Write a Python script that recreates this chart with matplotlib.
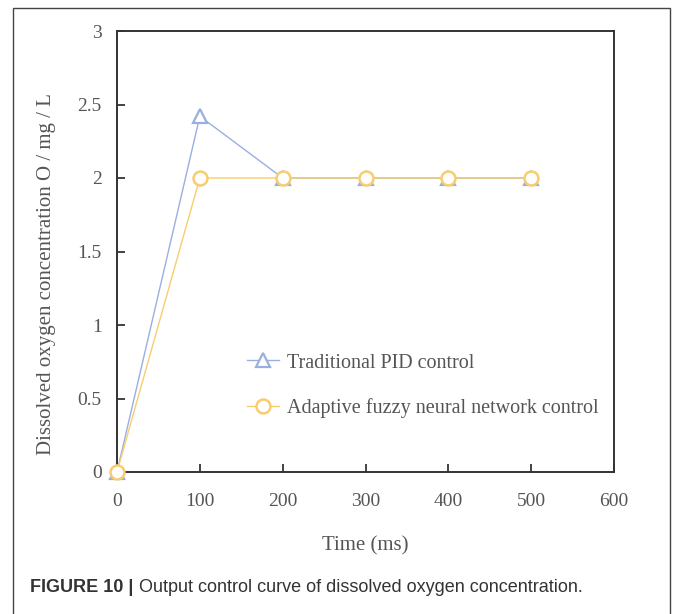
import matplotlib
matplotlib.use("Agg")
import matplotlib.pyplot as plt
from matplotlib.patches import Rectangle

time_ms = [0, 100, 200, 300, 400, 500]
pid_values = [0, 2.42, 2.0, 2.0, 2.0, 2.0]
fuzzy_values = [0, 2.0, 2.0, 2.0, 2.0, 2.0]
x_ticks = [0, 100, 200, 300, 400, 500, 600]
y_ticks = [0, 0.5, 1, 1.5, 2, 2.5, 3]
y_tick_labels = ["0", "0.5", "1", "1.5", "2", "2.5", "3"]

W, H = 673, 614
fig = plt.figure(figsize=(W / 100, H / 100), dpi=100)
serif = ["Liberation Serif", "DejaVu Serif"]
sans = ["Liberation Sans", "DejaVu Sans"]
text_col = "#555555"

ax = fig.add_axes([117 / W, 1 - 472 / H, (614 - 117) / W, (472 - 31) / H])

pid_col = "#9aafe0"
fz_col = "#f7cd6e"
l1, = ax.plot(time_ms, pid_values, color=pid_col, lw=1.0, marker="^", ms=10,
              mfc="white", mec=pid_col, mew=1.6, label="Traditional PID control", zorder=3)
l2, = ax.plot(time_ms, fuzzy_values, color=fz_col, lw=1.0, marker="o", ms=10,
              mfc="white", mec=fz_col, mew=1.8,
              label="Adaptive fuzzy neural network control", zorder=4)
l1.set_clip_on(False)
l2.set_clip_on(False)

ax.set_xlim(0, 600)
ax.set_ylim(0, 3)
ax.set_xticks(x_ticks)
ax.set_xticklabels([str(v) for v in x_ticks])
ax.set_yticks(y_ticks)
ax.set_yticklabels(y_tick_labels)
ax.tick_params(direction="in", length=6, width=1.2, colors="#222222",
               labelcolor=text_col, labelsize=14, pad=11)
ax.tick_params(axis="x", pad=15)
for lab in ax.get_xticklabels() + ax.get_yticklabels():
    lab.set_family(serif)
for s in ax.spines.values():
    s.set_color("#333333")
    s.set_linewidth(1.4)

ax.set_xlabel("Time (ms)", family=serif, fontsize=15, color=text_col)
ax.set_ylabel("Dissolved oxygen concentration O / mg / L", family=serif, fontsize=15,
              color=text_col)
ax.xaxis.set_label_coords(0.5, (472 - 536) / 441)
ax.yaxis.set_label_coords((56 - 117) / 497, (472 - 274) / 441)

leg = ax.legend(loc="upper left", bbox_to_anchor=(0.225, 0.31), frameon=False,
                prop={"family": serif, "size": 14.5}, handlelength=1.6,
                labelspacing=1.25, handletextpad=0.4)
for t in leg.get_texts():
    t.set_color(text_col)

# outer frame
fig.patches.append(Rectangle((13 / W, -0.01), (670 - 13) / W, 1 - 8 / H + 0.01,
                             transform=fig.transFigure, fill=False,
                             edgecolor="#444444", lw=1.0))

t_bold = fig.text(30 / W, 1 - 588 / H, "FIGURE 10 |", family=sans,
                  fontsize=13, fontweight="bold", color="#333333", va="center")
fig.canvas.draw()
bb = t_bold.get_window_extent(renderer=fig.canvas.get_renderer())
fig.text(bb.x1 / W + 6 / W, 1 - 588 / H,
         "Output control curve of dissolved oxygen concentration.",
         family=sans, fontsize=13, color="#333333", va="center")

fig.savefig("out.png", dpi=100)
